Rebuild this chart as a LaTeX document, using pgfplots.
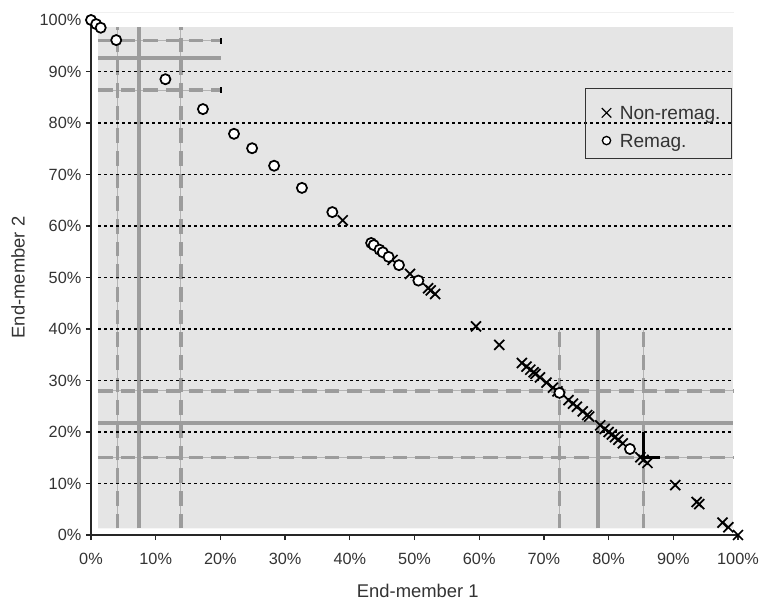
\documentclass[border=0pt]{standalone}
\usepackage{fontspec}
\setmainfont{Liberation Sans}
\usepackage{pgfplots}
\pgfplotsset{compat=1.18}
\definecolor{bg}{HTML}{E5E5E5}
\definecolor{gl}{HTML}{9C9C9C}
\definecolor{gthin}{HTML}{B4B4B4}
\definecolor{tl}{HTML}{333333}
\pgfplotsset{
  thinl/.style={gthin, line width=0.75pt, forget plot},
  dashl/.style={gl, line width=2.6pt, dash pattern=on 11pt off 6pt, forget plot},
  solidl/.style={gl, line width=3pt, forget plot},
  dotl/.style={black, line width=1.35pt, dash pattern=on 2pt off 2.5pt, forget plot},
}
\begin{document}
\begin{tikzpicture}
\useasboundingbox (-68.25pt,-49.5pt) rectangle (505.5pt,401.25pt);
\begin{axis}[
  scale only axis, width=485.25pt, height=386.25pt,
  xmin=0, xmax=100, ymin=0, ymax=100,
  axis x line=bottom, axis y line=left,
  axis line style={line width=1.1pt, color=black!85, -},
  xtick={0,10,...,100}, ytick={0,10,...,100},
  xticklabels={0\%,10\%,20\%,30\%,40\%,50\%,60\%,70\%,80\%,90\%,100\%},
  yticklabels={0\%,10\%,20\%,30\%,40\%,50\%,60\%,70\%,80\%,90\%,100\%},
  tick align=outside, major tick length=3.75pt,
  tick style={line width=0.9pt, color=black!85},
  ticklabel style={font=\fontsize{12.2}{14}\selectfont, text=tl},
  xticklabel style={yshift=-6pt},
  xlabel={End-member 1}, ylabel={End-member 2},
  label style={font=\fontsize{13.8}{16}\selectfont, text=tl},
  xlabel style={at={(axis description cs:0.505,-0.1087)}, anchor=center},
  ylabel style={at={(axis description cs:-0.1128,0.5)}, anchor=center},
  clip=false,
  legend style={at={(axis description cs:0.7635,0.868)}, anchor=north west,
    draw=black!80, line width=0.8pt, fill=none,
    font=\fontsize{14.3}{16}\selectfont, text=tl,
    inner xsep=0pt, inner ysep=5.45pt,
    nodes={text height=17.65pt, text depth=3.15pt, inner ysep=0pt, inner xsep=0pt},
    /tikz/every even column/.append style={column sep=0pt},
    /tikz/every odd column/.append style={column sep=0pt}},
  legend cell align=left,
  legend image code/.code={\path[draw=none,fill=none] (0pt,0pt) -- (25.7pt,0pt); \draw[#1,/tikz/only marks] plot coordinates {(15.75pt,-2.4pt)};},
]
% faint top frame line
\addplot[gray!12, line width=0.8pt, forget plot] coordinates {(0,101.4) (99.4,101.4)};
% background
\addplot[fill=bg, draw=none, forget plot] coordinates {(1.1,1.3) (99.2,1.3) (99.2,98.6) (1.1,98.6) (1.1,1.3)};
% thin lines under dashed
\addplot[thinl] coordinates {(4.1,1.3) (4.1,98.6)};
\addplot[thinl] coordinates {(13.9,1.3) (13.9,98.6)};
\addplot[thinl] coordinates {(1.1,96.0) (20.1,96.0)};
\addplot[thinl] coordinates {(1.1,86.4) (20.1,86.4)};
\addplot[thinl] coordinates {(1.1,28.0) (99.2,28.0)};
\addplot[thinl] coordinates {(1.1,15.0) (99.2,15.0)};
\addplot[thinl] coordinates {(72.4,1.3) (72.4,39.8)};
\addplot[thinl] coordinates {(85.4,1.3) (85.4,39.8)};
% dashed
\addplot[dashl] coordinates {(4.1,1.3) (4.1,98.6)};
\addplot[dashl] coordinates {(13.9,1.3) (13.9,98.6)};
\addplot[dashl] coordinates {(1.1,96.0) (20.1,96.0)};
\addplot[dashl] coordinates {(1.1,86.4) (20.1,86.4)};
\addplot[dashl] coordinates {(1.1,28.0) (99.2,28.0)};
\addplot[dashl] coordinates {(1.1,15.0) (99.2,15.0)};
\addplot[dashl] coordinates {(72.4,1.3) (72.4,39.8)};
\addplot[dashl] coordinates {(85.4,1.3) (85.4,39.8)};
% solid
\addplot[solidl] coordinates {(7.4,1.3) (7.4,98.6)};
\addplot[solidl] coordinates {(1.1,92.6) (20.1,92.6)};
\addplot[solidl] coordinates {(1.1,21.8) (99.2,21.8)};
\addplot[solidl] coordinates {(78.4,1.3) (78.4,39.8)};
% dotted grid
\addplot[dotl] coordinates {(1.1,10) (99.2,10)};
\addplot[dotl] coordinates {(1.1,20) (99.2,20)};
\addplot[dotl] coordinates {(1.1,30) (99.2,30)};
\addplot[dotl] coordinates {(1.1,40) (99.2,40)};
\addplot[dotl] coordinates {(1.1,50) (99.2,50)};
\addplot[dotl] coordinates {(1.1,60) (99.2,60)};
\addplot[dotl] coordinates {(1.1,70) (99.2,70)};
\addplot[dotl] coordinates {(1.1,80) (99.2,80)};
\addplot[dotl] coordinates {(1.1,90) (99.2,90)};
% black segments
\addplot[black, line width=1.5pt, forget plot] coordinates {(20.1,95.4) (20.1,96.6)};
\addplot[black, line width=1.5pt, forget plot] coordinates {(20.1,85.9) (20.1,86.9)};
\addplot[black, line width=2.2pt, forget plot] coordinates {(85.4,20.0) (85.4,15.0) (88.0,15.0)};
% data
\addplot[only marks, mark=x, mark size=5.3pt, black, line width=1.3pt,
  legend image post style={mark size=5pt, line width=0.9pt}] coordinates {
(38.9,61.1) (46.6,53.4) (49.3,50.7) (52.1,47.9) (52.5,47.5) (53.2,46.8)
(59.5,40.5) (63.1,36.9) (66.6,33.4) (67.3,32.7) (67.9,32.1) (68.4,31.6)
(68.7,31.3) (69.4,30.6) (70.4,29.6) (71.4,28.6) (72.1,27.9) (73.8,26.2)
(74.5,25.5) (75.1,24.9) (76.0,24.0) (76.7,23.3) (77.0,23.0) (78.7,21.3)
(79.4,20.6) (80.0,20.0) (80.5,19.5) (81.0,19.0) (81.5,18.5) (82.2,17.8)
(84.9,15.1) (85.4,14.6) (86.0,14.0) (90.3,9.7) (93.6,6.4) (94.0,6.0)
(97.6,2.4) (98.5,1.5) (100,0)
};
\addlegendentry{Non-remag.\kern8.5pt}
\addplot[only marks, mark=*, mark size=3.8pt, mark options={fill=white, draw=black, line width=1.3pt},
  legend image post style={mark size=3.1pt, mark options={fill=white, draw=black, line width=1pt}}] coordinates {
(0,100) (0.8,99.2) (1.5,98.5) (3.9,96.1) (11.5,88.5) (17.3,82.7)
(22.1,77.9) (24.9,75.1) (28.3,71.7) (32.6,67.4) (37.3,62.7) (43.3,56.7)
(43.7,56.3) (44.6,55.4) (45.1,54.9) (46.0,54.0) (47.6,52.4) (50.6,49.4)
(72.4,27.6) (83.3,16.7)
};
\addlegendentry{Remag.}
\end{axis}
\end{tikzpicture}
\end{document}
